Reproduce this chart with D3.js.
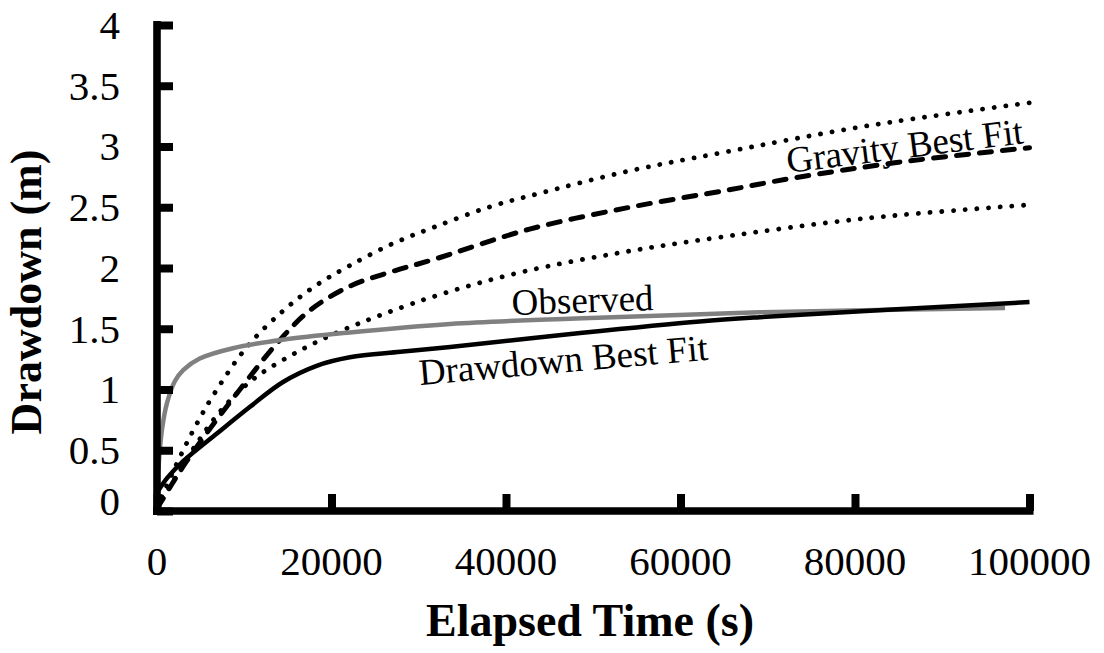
<!DOCTYPE html>
<html>
<head>
<meta charset="utf-8">
<script src="https://cdn.jsdelivr.net/npm/d3@7"></script>
<style>
  html, body { margin: 0; padding: 0; background: #fff; }
  svg { display: block; }
  text { font-family: "Liberation Serif", "Times New Roman", serif; fill: #000; }
</style>
</head>
<body>
<svg id="chart" width="1104" height="653"></svg>
<script>
// Axis ticks
const xTicks = [0, 20000, 40000, 60000, 80000, 100000];
const yTicks = [0, 0.5, 1, 1.5, 2, 2.5, 3, 3.5, 4];

// Observed drawdown: [elapsed time (s), drawdown (m)]
const observed = [
  [150, 0.34], [570, 0.67], [1150, 0.89], [2060, 1.07], [3000, 1.16],
  [4900, 1.255], [8700, 1.34], [14400, 1.41], [22100, 1.47], [33600, 1.54],
  [48000, 1.585], [69000, 1.635], [97200, 1.67]
];

// Drawdown best fit
const drawdownFit = [
  [0, 0.15], [1150, 0.27], [3000, 0.41], [6900, 0.64], [10700, 0.86],
  [14400, 1.06], [18300, 1.195], [22100, 1.265], [27900, 1.31], [33600, 1.35],
  [48500, 1.465], [62200, 1.56], [69100, 1.595], [100000, 1.72]
];

// Gravity best fit
const gravityFit = [
  [0, 0.02], [1700, 0.22], [3400, 0.41], [6100, 0.68], [9500, 1.0],
  [13750, 1.38], [17500, 1.65], [22100, 1.85], [26900, 1.97], [31700, 2.07],
  [42700, 2.32], [54200, 2.50], [65300, 2.64], [72900, 2.74], [85000, 2.87],
  [100000, 2.99]
];

// Gravity fit bounds
const upperBound = [
  [0, 0.03], [2600, 0.44], [4500, 0.71], [6600, 0.97], [10300, 1.35],
  [14500, 1.65], [18300, 1.86], [22100, 2.02], [27000, 2.20], [31900, 2.34],
  [38000, 2.50], [43600, 2.61], [54200, 2.80], [64800, 2.95], [81400, 3.17],
  [100000, 3.36]
];
const lowerBound = [
  [0, 0.02], [2300, 0.30], [4600, 0.56], [6900, 0.79], [9200, 0.97],
  [11500, 1.11], [16100, 1.31], [20700, 1.47], [25900, 1.62], [32800, 1.79],
  [42000, 1.97], [53400, 2.13], [64200, 2.25], [81400, 2.41], [100000, 2.52]
];

const svg = d3.select("#chart");
const x = d3.scaleLinear().domain([0, 100000]).range([157, 1029.5]);
const y = d3.scaleLinear().domain([0, 4]).range([511, 25]);

const line = d3.line()
  .x(d => x(d[0]))
  .y(d => y(d[1]))
  .curve(d3.curveCatmullRom.alpha(0.5));

const plot = svg.append("g");

// Curves
plot.append("path").datum(upperBound)
  .attr("d", line).attr("fill", "none").attr("stroke", "#000")
  .attr("stroke-width", 4.8).attr("stroke-linecap", "round")
  .attr("stroke-dasharray", "0.1 11.6");
plot.append("path").datum(lowerBound)
  .attr("d", line).attr("fill", "none").attr("stroke", "#000")
  .attr("stroke-width", 4.8).attr("stroke-linecap", "round")
  .attr("stroke-dasharray", "0.1 11.6");
plot.append("path").datum(gravityFit)
  .attr("d", line).attr("fill", "none").attr("stroke", "#000")
  .attr("stroke-width", 5).attr("stroke-linecap", "round")
  .attr("stroke-dasharray", "12 11");
plot.append("path").datum(observed)
  .attr("d", line).attr("fill", "none").attr("stroke", "#808080")
  .attr("stroke-width", 4.5).attr("stroke-linejoin", "round");
plot.append("path").datum(drawdownFit)
  .attr("d", line).attr("fill", "none").attr("stroke", "#000")
  .attr("stroke-width", 4.5).attr("stroke-linejoin", "round");

// Axes with inward ticks
const yAxis = svg.append("g").attr("transform", `translate(${x(0)},0)`)
  .call(d3.axisRight(y).tickValues(yTicks).tickSize(16).tickFormat(""));
const xAxis = svg.append("g").attr("transform", `translate(0,${y(0)})`)
  .call(d3.axisTop(x).tickValues(xTicks).tickSize(17).tickFormat(""));
[yAxis, xAxis].forEach(g => {
  g.select(".domain").attr("stroke", "#000").attr("stroke-width", 7.6);
  g.selectAll(".tick line").attr("stroke", "#000").attr("stroke-width", 8);
});
yAxis.select(".domain").attr("d", `M0,${y(4) - 4}V${y(0) + 4}`);
xAxis.select(".domain").attr("d", `M${x(0) - 4},0H${x(100000) + 4}`);

// Tick labels
svg.append("g").selectAll("text").data(yTicks).join("text")
  .attr("x", 120)
  .attr("y", d => y(d) - (d === 0 ? 10 : 0))
  .attr("dy", "0.34em")
  .attr("text-anchor", "end")
  .attr("font-size", 41)
  .text(d => d3.format("")(d));
svg.append("g").selectAll("text").data(xTicks).join("text")
  .attr("x", d => x(d))
  .attr("y", 575)
  .attr("text-anchor", "middle")
  .attr("font-size", 41)
  .text(d => d);

// Axis titles
svg.append("text")
  .attr("x", 590).attr("y", 636)
  .attr("text-anchor", "middle")
  .attr("font-size", 46).attr("font-weight", "bold")
  .text("Elapsed Time (s)");
svg.append("text")
  .attr("transform", "translate(41,292) rotate(-90)")
  .attr("text-anchor", "middle")
  .attr("font-size", 44).attr("font-weight", "bold")
  .text("Drawdown (m)");

// Curve labels
const labels = [
  { text: "Observed", t: 40700, v: 1.613, angle: -2 },
  { text: "Drawdown Best Fit", t: 30140, v: 1.037, angle: -5 },
  { text: "Gravity Best Fit", t: 72320, v: 2.782, angle: -7.2 }
];
svg.append("g").selectAll("text").data(labels).join("text")
  .attr("transform", d => `translate(${x(d.t)},${y(d.v)}) rotate(${d.angle})`)
  .attr("font-size", 37)
  .text(d => d.text);
</script>
</body>
</html>
